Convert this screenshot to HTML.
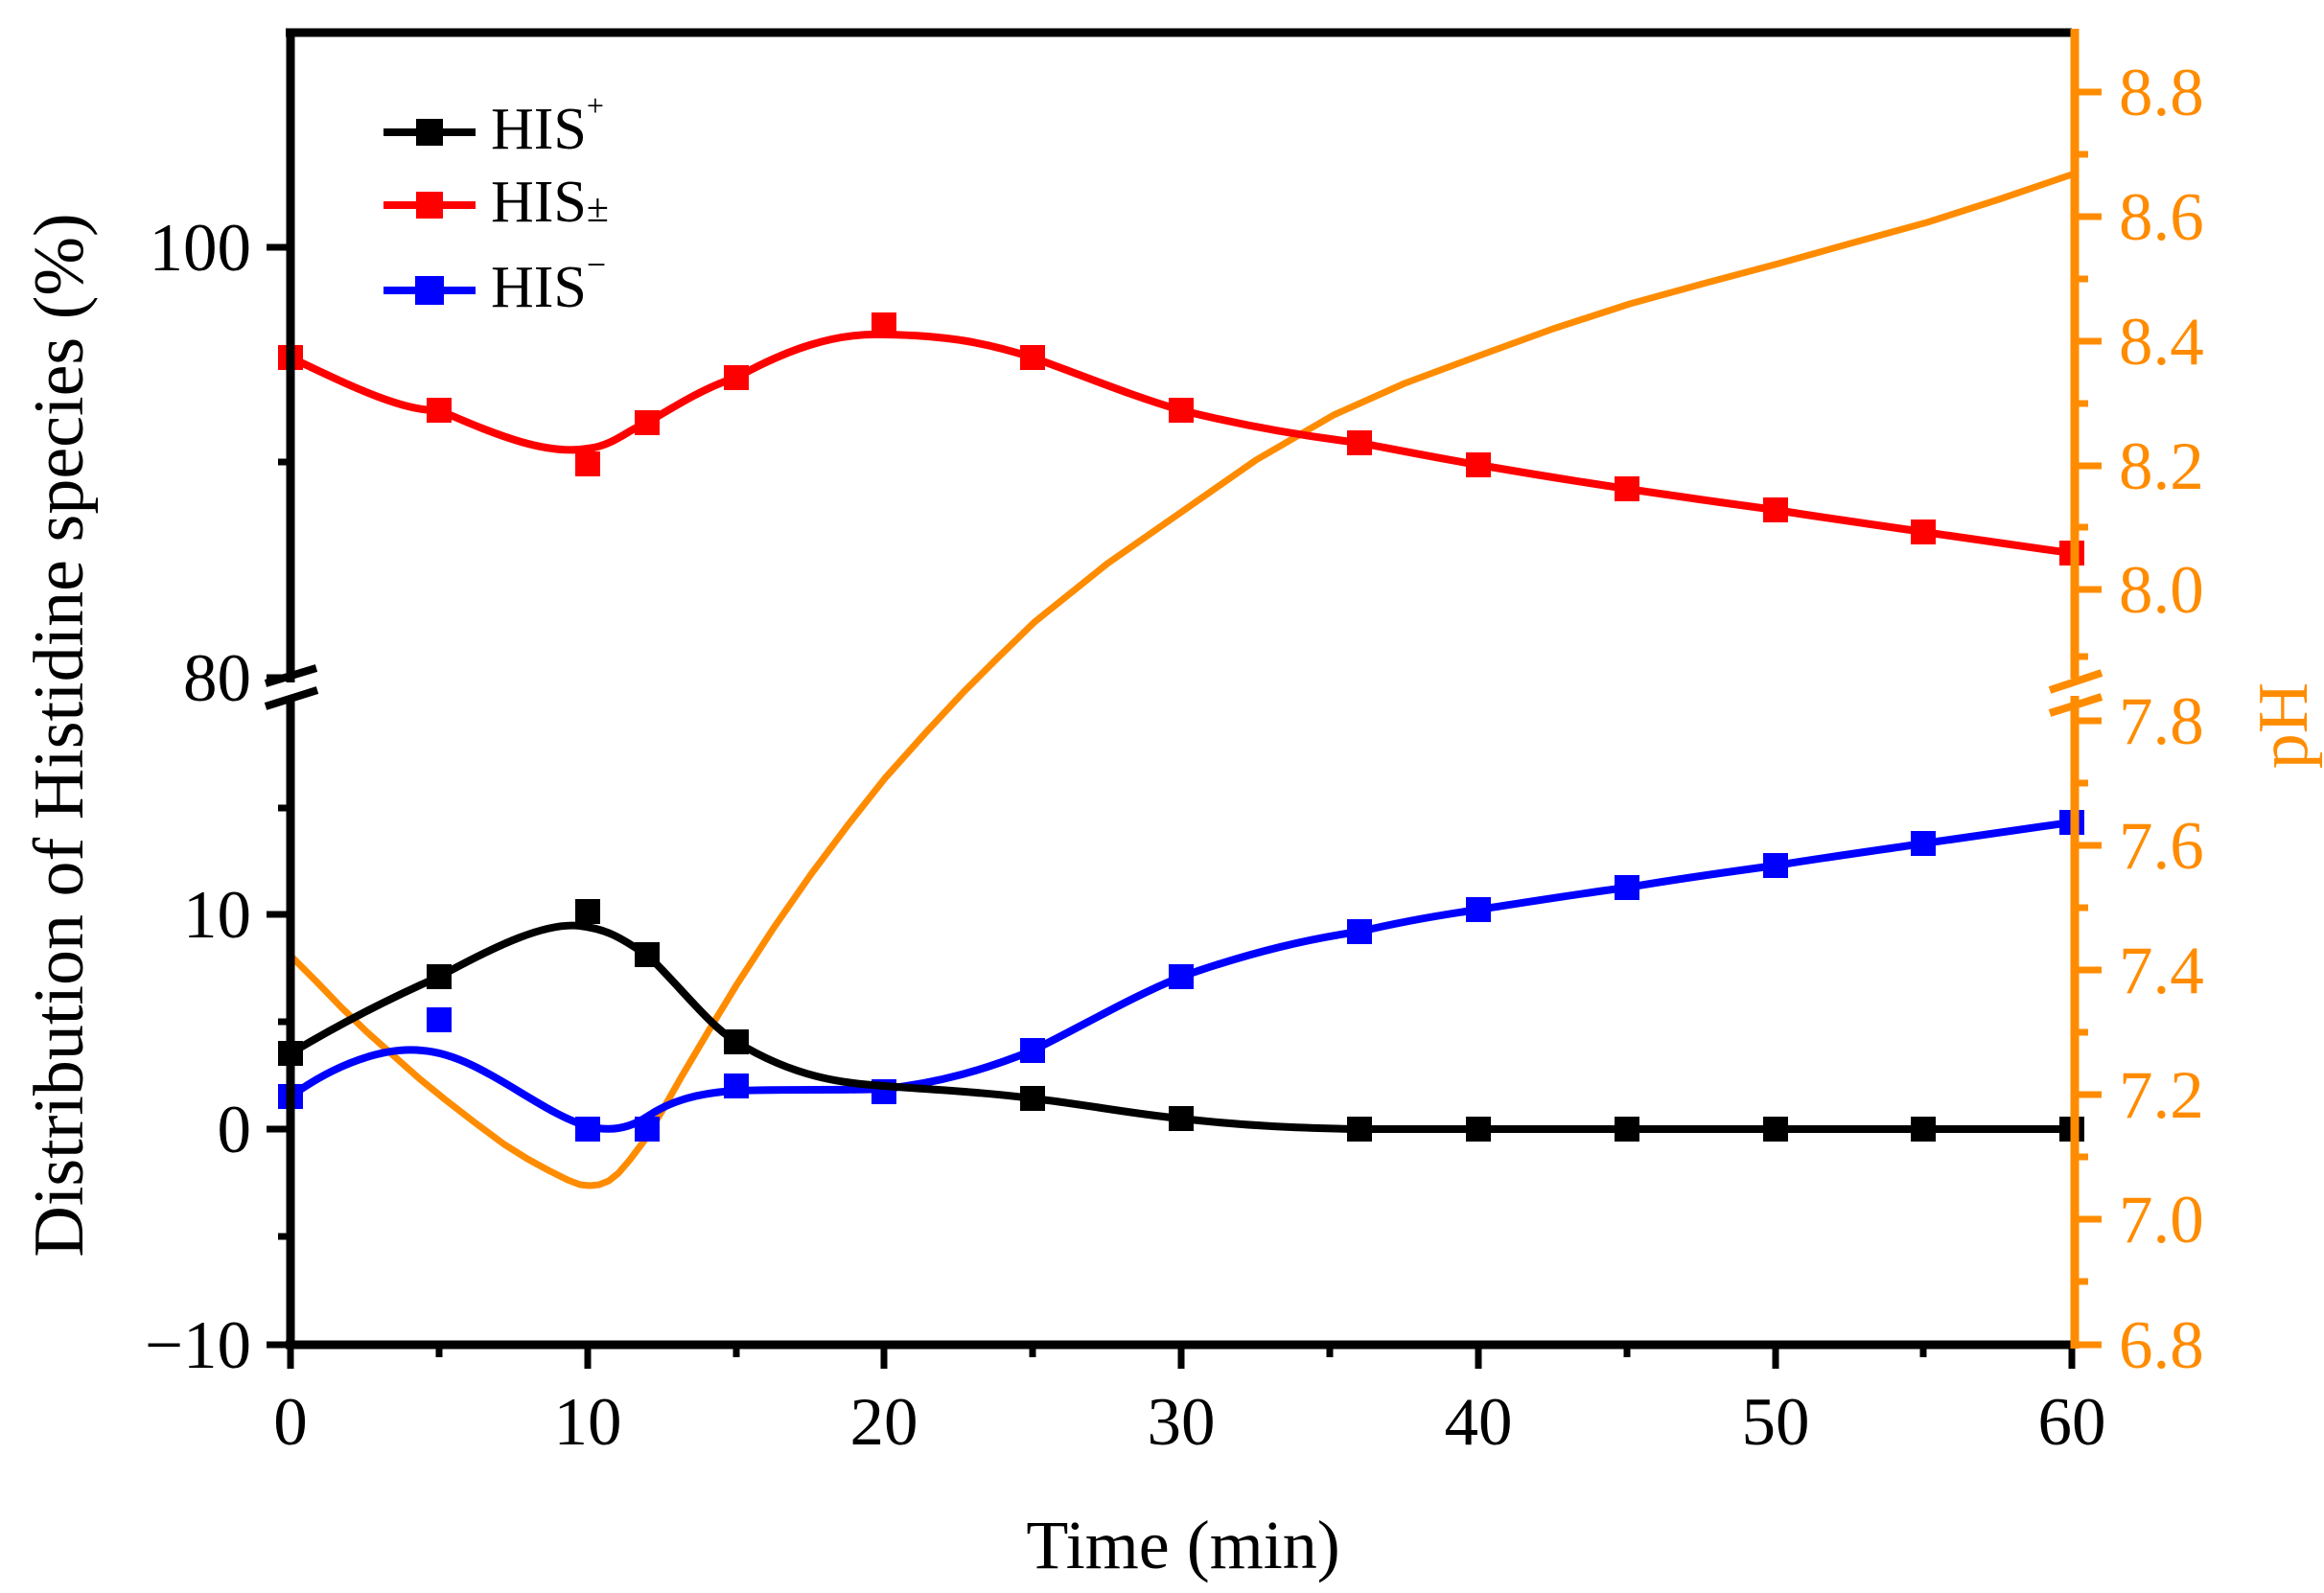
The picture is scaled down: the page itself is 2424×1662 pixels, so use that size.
<!DOCTYPE html>
<html><head><meta charset="utf-8"><style>
body{margin:0;background:#fff}
svg{display:block;font-family:"Liberation Serif",serif}
</style></head><body>
<svg width="2424" height="1662" viewBox="0 0 2424 1662" xmlns="http://www.w3.org/2000/svg">
<rect width="2424" height="1662" fill="#fff"/>
<!-- orange pH curve -->
<polyline fill="none" stroke="#FF8C00" stroke-width="7" stroke-linejoin="round" stroke-linecap="round" points="303,997 330,1024 356,1051 383,1077 410,1101 437,1125 464,1147 495,1171 526,1194 550,1209 572,1221 592,1231 605,1236 615,1237 625,1236 635,1232 645,1224 657,1210 672,1190 690,1160 711,1123 740,1074 768,1028 807,968 846,912 885,860 923,812 965,765 1005,722 1040,687 1079,649 1155,588 1234,533 1310,480 1391,433 1465,400 1543,371 1620,343 1700,317 1780,295 1855,275 1930,254 2010,232 2085,208 2161,182"/>
<!-- red -->
<path fill="none" stroke="#FF0000" stroke-width="8" stroke-linejoin="round" d="M303,373 C360,400 420,430 458,428 C520,455 570,475 613,468 C640,465 655,448 675,441 C710,420 740,402 768,394 C820,365 870,347 922,349 C990,350 1030,358 1077,373 C1130,392 1180,413 1232,428 C1300,445 1360,455 1418,462 C1460,470 1500,478 1542,485 C1600,495 1650,503 1697,510 C1750,518 1800,525 1852,532 C1900,540 1960,548 2006,555 C2060,563 2110,570 2161,577"/>
<g fill="#FF0000">
<rect x="290" y="360" width="26" height="26"/><rect x="445" y="415" width="26" height="26"/><rect x="600" y="471" width="26" height="26"/><rect x="662" y="428" width="26" height="26"/><rect x="755" y="381" width="26" height="26"/><rect x="909" y="326" width="26" height="26"/><rect x="1064" y="360" width="26" height="26"/><rect x="1219" y="415" width="26" height="26"/><rect x="1405" y="449" width="26" height="26"/><rect x="1529" y="472" width="26" height="26"/><rect x="1684" y="497" width="26" height="26"/><rect x="1839" y="519" width="26" height="26"/><rect x="1993" y="542" width="26" height="26"/><rect x="2148" y="564" width="26" height="26"/>
</g>
<!-- blue -->
<path fill="none" stroke="#0000FF" stroke-width="8" stroke-linejoin="round" d="M303,1144 C350,1110 400,1092 440,1096 C500,1100 560,1160 613,1175 C640,1182 660,1175 675,1165 C700,1148 730,1140 768,1138 C830,1136 880,1138 922,1136 C980,1130 1030,1115 1077,1096 C1130,1070 1180,1040 1232,1019 C1300,995 1360,980 1418,972 C1460,962 1500,955 1542,949 C1600,940 1650,932 1697,926 C1750,917 1800,910 1852,903 C1900,895 1960,887 2006,880 C2060,872 2110,865 2161,858"/>
<g fill="#0000FF">
<rect x="290" y="1131" width="26" height="26"/><rect x="445" y="1051" width="26" height="26"/><rect x="600" y="1165" width="26" height="26"/><rect x="662" y="1165" width="26" height="26"/><rect x="755" y="1120" width="26" height="26"/><rect x="909" y="1126" width="26" height="26"/><rect x="1064" y="1083" width="26" height="26"/><rect x="1219" y="1006" width="26" height="26"/><rect x="1405" y="959" width="26" height="26"/><rect x="1529" y="936" width="26" height="26"/><rect x="1684" y="913" width="26" height="26"/><rect x="1839" y="890" width="26" height="26"/><rect x="1993" y="867" width="26" height="26"/><rect x="2148" y="845" width="26" height="26"/>
</g>
<!-- black -->
<path fill="none" stroke="#000" stroke-width="8" stroke-linejoin="round" d="M303,1099 C360,1065 410,1040 458,1019 C520,985 570,962 605,966 C640,970 655,985 675,996 C710,1030 740,1070 768,1087 C830,1125 880,1130 922,1133 C990,1138 1030,1140 1077,1146 C1130,1152 1180,1162 1232,1167 C1300,1175 1360,1177 1418,1178 L2161,1178"/>
<g fill="#000">
<rect x="290" y="1086" width="26" height="26"/><rect x="445" y="1006" width="26" height="26"/><rect x="600" y="938" width="26" height="26"/><rect x="662" y="983" width="26" height="26"/><rect x="755" y="1074" width="26" height="26"/><rect x="1064" y="1133" width="26" height="26"/><rect x="1219" y="1154" width="26" height="26"/><rect x="1405" y="1165" width="26" height="26"/><rect x="1529" y="1165" width="26" height="26"/><rect x="1684" y="1165" width="26" height="26"/><rect x="1839" y="1165" width="26" height="26"/><rect x="1993" y="1165" width="26" height="26"/><rect x="2148" y="1165" width="26" height="26"/>
</g>
<!-- axes -->
<g stroke="#000" stroke-width="9" fill="none">
<line x1="298" y1="34" x2="2161" y2="34"/>
<line x1="303" y1="30" x2="303" y2="712"/>
<line x1="303" y1="730" x2="303" y2="1407"/>
<line x1="298" y1="1403" x2="2161" y2="1403"/>
</g>
<g stroke="#000" stroke-width="8">
<line x1="277" y1="713" x2="330" y2="697"/>
<line x1="277" y1="737" x2="331" y2="720"/>
</g>
<g stroke="#000" stroke-width="7">
<line x1="278" y1="258" x2="303" y2="258"/><line x1="290" y1="482" x2="303" y2="482"/><line x1="278" y1="707" x2="303" y2="707"/>
<line x1="290" y1="843" x2="303" y2="843"/><line x1="278" y1="954" x2="303" y2="954"/><line x1="290" y1="1066" x2="303" y2="1066"/><line x1="278" y1="1178" x2="303" y2="1178"/><line x1="290" y1="1290" x2="303" y2="1290"/><line x1="278" y1="1403" x2="303" y2="1403"/>
</g>
<g stroke="#000" stroke-width="7">
<line x1="303" y1="1403" x2="303" y2="1428"/><line x1="458" y1="1403" x2="458" y2="1416"/><line x1="613" y1="1403" x2="613" y2="1428"/><line x1="768" y1="1403" x2="768" y2="1416"/><line x1="922" y1="1403" x2="922" y2="1428"/><line x1="1077" y1="1403" x2="1077" y2="1416"/><line x1="1232" y1="1403" x2="1232" y2="1428"/><line x1="1387" y1="1403" x2="1387" y2="1416"/><line x1="1542" y1="1403" x2="1542" y2="1428"/><line x1="1697" y1="1403" x2="1697" y2="1416"/><line x1="1852" y1="1403" x2="1852" y2="1428"/><line x1="2006" y1="1403" x2="2006" y2="1416"/><line x1="2161" y1="1403" x2="2161" y2="1428"/>
</g>
<g stroke="#FF8C00" stroke-width="9">
<line x1="2164" y1="30" x2="2164" y2="708"/><line x1="2164" y1="726" x2="2164" y2="1407"/>
</g>
<g stroke="#FF8C00" stroke-width="8">
<line x1="2138" y1="720" x2="2192" y2="702"/><line x1="2138" y1="744" x2="2192" y2="727"/>
</g>
<g stroke="#FF8C00" stroke-width="7">
<line x1="2164" y1="96" x2="2192" y2="96"/><line x1="2164" y1="161" x2="2178" y2="161"/><line x1="2164" y1="226" x2="2192" y2="226"/><line x1="2164" y1="291" x2="2178" y2="291"/><line x1="2164" y1="356" x2="2192" y2="356"/><line x1="2164" y1="421" x2="2178" y2="421"/><line x1="2164" y1="486" x2="2192" y2="486"/><line x1="2164" y1="550" x2="2178" y2="550"/><line x1="2164" y1="615" x2="2192" y2="615"/><line x1="2164" y1="685" x2="2178" y2="685"/>
<line x1="2164" y1="752" x2="2192" y2="752"/><line x1="2164" y1="817" x2="2178" y2="817"/><line x1="2164" y1="882" x2="2192" y2="882"/><line x1="2164" y1="947" x2="2178" y2="947"/><line x1="2164" y1="1012" x2="2192" y2="1012"/><line x1="2164" y1="1077" x2="2178" y2="1077"/><line x1="2164" y1="1142" x2="2192" y2="1142"/><line x1="2164" y1="1207" x2="2178" y2="1207"/><line x1="2164" y1="1272" x2="2192" y2="1272"/><line x1="2164" y1="1337" x2="2178" y2="1337"/><line x1="2164" y1="1403" x2="2192" y2="1403"/>
</g>
<g font-size="71" text-anchor="end" fill="#000">
<text x="262" y="282">100</text><text x="262" y="731">80</text><text x="262" y="978">10</text><text x="262" y="1202">0</text><text x="262" y="1427">−10</text>
</g>
<g font-size="71" text-anchor="middle" fill="#000">
<text x="303" y="1507">0</text><text x="613" y="1507">10</text><text x="922" y="1507">20</text><text x="1232" y="1507">30</text><text x="1542" y="1507">40</text><text x="1852" y="1507">50</text><text x="2161" y="1507">60</text>
</g>
<g font-size="71" fill="#FF8C00">
<text x="2210" y="120">8.8</text><text x="2210" y="250">8.6</text><text x="2210" y="380">8.4</text><text x="2210" y="510">8.2</text><text x="2210" y="639">8.0</text><text x="2210" y="776">7.8</text><text x="2210" y="906">7.6</text><text x="2210" y="1036">7.4</text><text x="2210" y="1166">7.2</text><text x="2210" y="1296">7.0</text><text x="2210" y="1427">6.8</text>
</g>
<text x="1234" y="1636" font-size="72" text-anchor="middle" fill="#000">Time (min)</text>
<text transform="translate(86,767) rotate(-90)" font-size="74" text-anchor="middle" fill="#000">Distribution of Histidine species (%)</text>
<text transform="translate(2406,757) rotate(-90)" font-size="74" text-anchor="middle" fill="#FF8C00">pH</text>
<g stroke-width="8">
<line x1="400" y1="138" x2="496" y2="138" stroke="#000"/><line x1="400" y1="214" x2="496" y2="214" stroke="#FF0000"/><line x1="400" y1="303" x2="496" y2="303" stroke="#0000FF"/>
</g>
<rect x="434" y="124" width="28" height="28" fill="#000"/>
<rect x="434" y="200" width="28" height="28" fill="#FF0000"/>
<rect x="433" y="288" width="30" height="30" fill="#0000FF"/>
<g font-size="62" fill="#000">
<text x="512" y="155">HIS<tspan font-size="32" dy="-34">+</tspan></text>
<text x="512" y="231">HIS<tspan font-size="42">±</tspan></text>
<text x="512" y="320">HIS<tspan font-size="36" dy="-32">−</tspan></text>
</g>
</svg>
</body></html>
